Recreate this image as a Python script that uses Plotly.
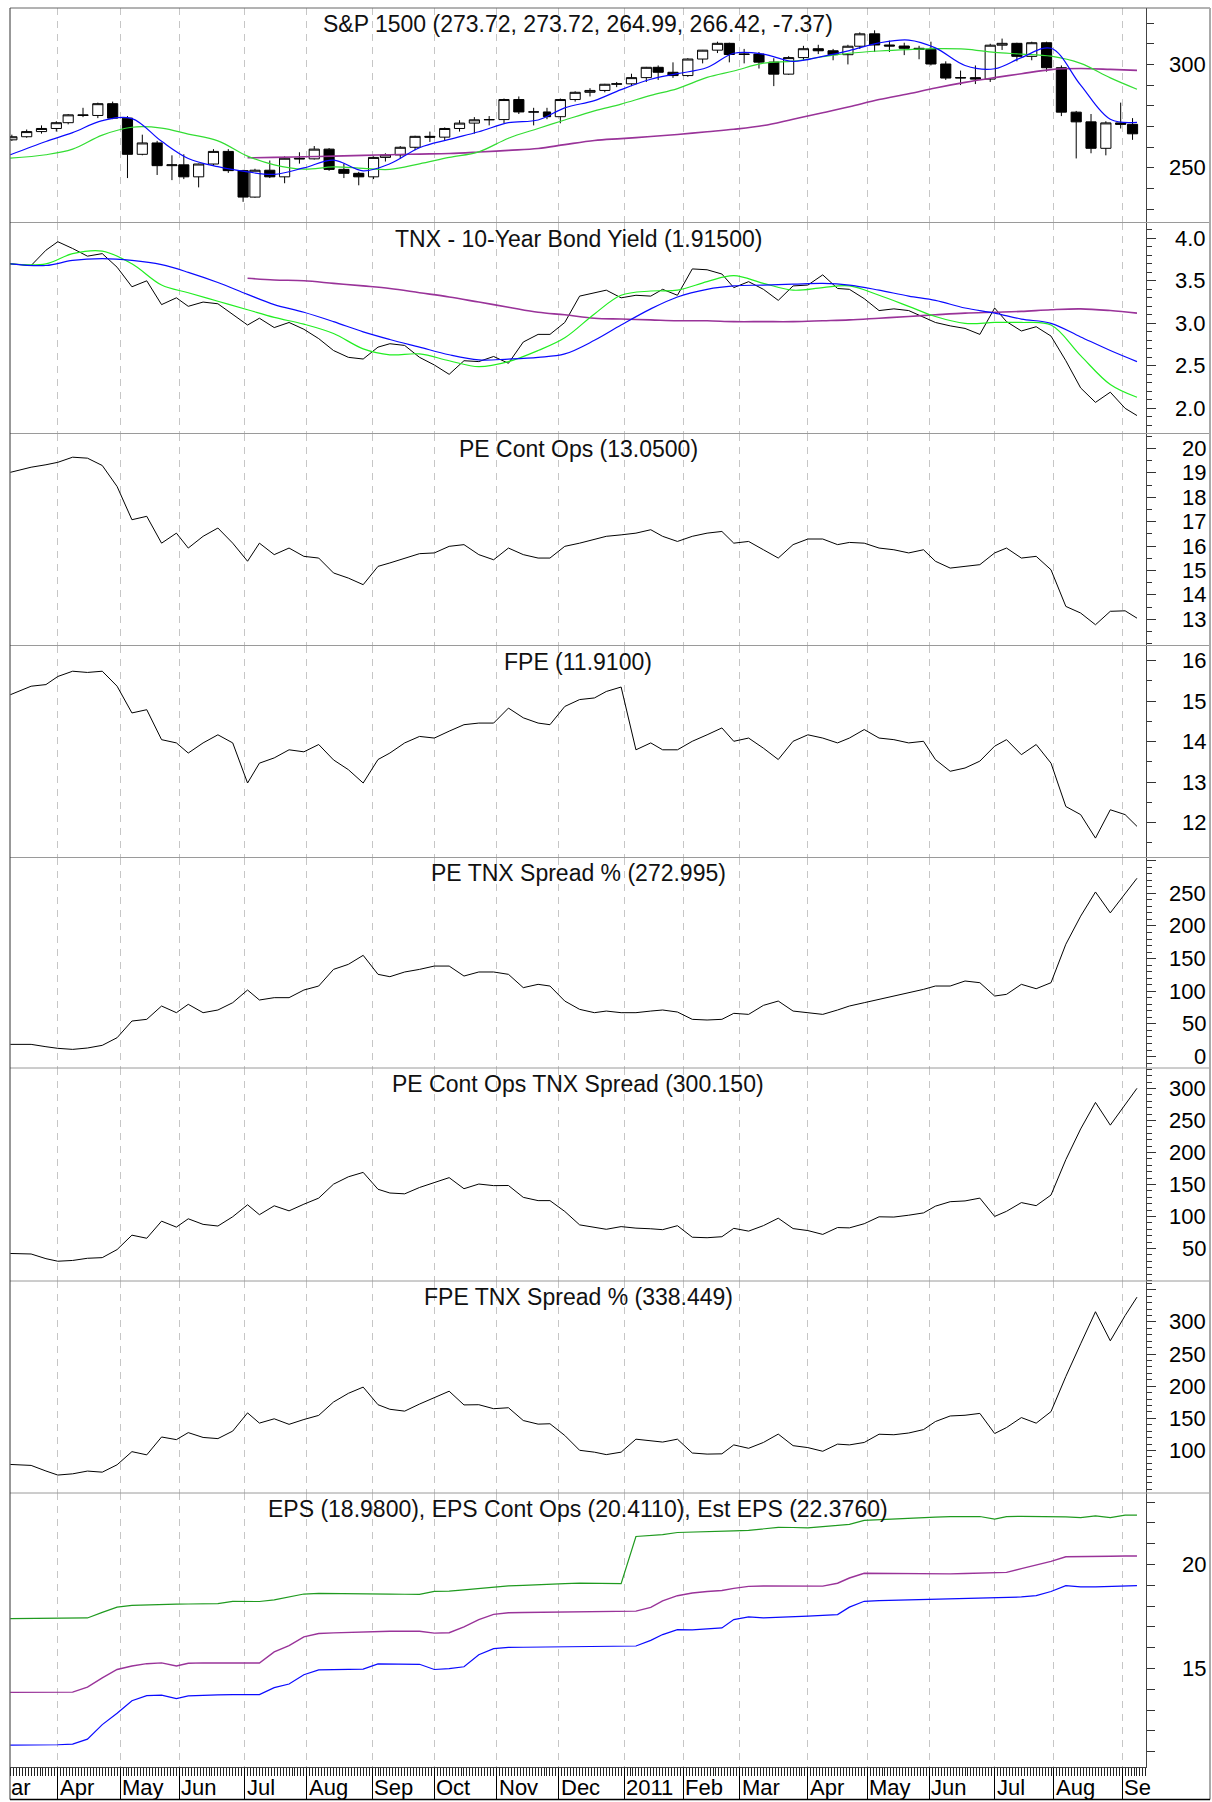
import plotly.graph_objects as go
from plotly.subplots import make_subplots

# ---------------- data (weekly samples) ----------------
dates = ["2010-03-10", "2010-03-19", "2010-03-26", "2010-04-01", "2010-04-09", "2010-04-16", "2010-04-23", "2010-04-30",
         "2010-05-07", "2010-05-14", "2010-05-21", "2010-05-28", "2010-06-04", "2010-06-11", "2010-06-18", "2010-06-25",
         "2010-07-02", "2010-07-09", "2010-07-16", "2010-07-23", "2010-07-30", "2010-08-06", "2010-08-13", "2010-08-20",
         "2010-08-27", "2010-09-03", "2010-09-10", "2010-09-17", "2010-09-24", "2010-10-01", "2010-10-08", "2010-10-15",
         "2010-10-22", "2010-10-29", "2010-11-05", "2010-11-12", "2010-11-19", "2010-11-26", "2010-12-03", "2010-12-10",
         "2010-12-17", "2010-12-23", "2010-12-31", "2011-01-07", "2011-01-14", "2011-01-21", "2011-01-28", "2011-02-04",
         "2011-02-11", "2011-02-18", "2011-02-25", "2011-03-04", "2011-03-11", "2011-03-18", "2011-03-25", "2011-04-01",
         "2011-04-08", "2011-04-15", "2011-04-21", "2011-04-29", "2011-05-06", "2011-05-13", "2011-05-20", "2011-05-27",
         "2011-06-03", "2011-06-10", "2011-06-17", "2011-06-24", "2011-07-01", "2011-07-08", "2011-07-15", "2011-07-22",
         "2011-07-29", "2011-08-05", "2011-08-12", "2011-08-19", "2011-08-26", "2011-09-02", "2011-09-09"]
ma_dates = dates[0::2]

spx_open = [263.5, 265.0, 267.5, 269.0, 271.8, 275.6, 275.3, 281.0, 274.0, 256.5,
            262.0, 251.0, 251.4, 245.6, 251.8, 257.9, 248.6, 235.8, 248.8, 245.6,
            254.6, 254.3, 259.0, 249.2, 247.3, 245.6, 255.0, 256.2, 259.9, 265.2,
            264.8, 269.0, 271.6, 273.2, 273.3, 283.0, 277.0, 277.0, 274.7, 283.0,
            286.5, 287.4, 290.4, 290.6, 293.6, 298.6, 296.2, 294.6, 302.6, 306.9,
            310.2, 304.8, 305.0, 301.1, 295.3, 303.3, 307.6, 306.6, 304.7, 308.8,
            314.8, 309.4, 308.9, 307.8, 307.3, 300.2, 293.4, 293.6, 292.9, 309.3,
            310.2, 303.9, 310.5, 298.4, 276.9, 272.2, 259.4, 271.7, 271.0]
spx_high = [266.0, 268.5, 270.5, 272.5, 276.0, 279.0, 281.5, 282.0, 275.0, 266.0,
            263.0, 256.0, 256.5, 252.0, 259.0, 259.0, 249.0, 249.5, 253.5, 255.5,
            257.5, 260.5, 259.5, 252.0, 248.0, 255.5, 257.0, 260.5, 265.5, 267.5,
            269.5, 273.0, 274.5, 275.0, 283.5, 284.5, 279.0, 279.0, 283.5, 287.0,
            288.5, 290.6, 291.5, 295.5, 298.8, 299.5, 301.0, 303.0, 307.0, 311.0,
            310.5, 307.5, 306.0, 303.0, 304.0, 309.0, 309.5, 307.5, 309.5, 315.5,
            316.5, 311.5, 310.5, 309.0, 311.0, 301.5, 297.0, 299.5, 310.0, 312.5,
            310.5, 311.0, 311.0, 299.5, 277.5, 276.0, 272.5, 281.5, 274.0]
spx_low = [263.0, 264.5, 266.5, 267.5, 271.0, 274.5, 274.0, 273.5, 245.0, 256.0,
           246.5, 244.0, 244.5, 240.5, 251.0, 247.5, 233.5, 235.5, 245.0, 242.5,
           252.0, 254.0, 248.5, 245.0, 241.5, 244.5, 253.0, 254.5, 258.5, 262.5,
           263.0, 267.5, 266.5, 270.5, 271.5, 276.0, 270.5, 273.5, 271.5, 282.0,
           284.5, 286.5, 289.0, 289.5, 291.5, 292.5, 293.5, 294.0, 300.5, 305.5,
           301.0, 300.5, 298.0, 289.5, 295.0, 302.0, 305.0, 302.0, 300.0, 307.5,
           306.0, 306.0, 304.5, 302.5, 299.5, 292.5, 290.0, 290.5, 291.5, 307.0,
           301.5, 302.0, 296.5, 275.0, 254.5, 257.0, 256.0, 269.0, 263.5]
spx_close = [265.0, 267.5, 269.0, 271.8, 275.6, 275.3, 281.0, 274.0, 256.5, 262.0,
             251.0, 251.4, 245.6, 251.8, 257.9, 248.6, 235.8, 248.8, 245.6, 254.6,
             254.3, 259.0, 249.2, 247.3, 245.6, 255.0, 256.2, 259.9, 265.2, 264.8,
             269.0, 271.6, 273.2, 273.3, 283.0, 277.0, 277.0, 274.7, 283.0, 286.5,
             287.4, 290.4, 290.6, 293.6, 298.6, 296.2, 294.6, 302.6, 306.9, 310.2,
             304.8, 305.0, 301.1, 295.3, 303.3, 307.6, 306.6, 304.7, 308.8, 314.8,
             309.4, 308.9, 307.8, 307.3, 300.2, 293.4, 293.6, 292.9, 309.3, 310.2,
             303.9, 310.5, 298.4, 276.9, 272.2, 259.4, 271.7, 271.0, 266.42]
spx_ma_fast = [256.3, 262.7, 267.0, 272.8, 273.8, 262.8, 254.5, 250.5, 248.0, 246.8,
               249.9, 253.7, 248.5, 251.9, 259.7, 263.7, 267.4, 271.8, 273.1, 279.0,
               282.5, 287.8, 292.8, 295.5, 298.5, 305.4, 305.0, 301.5, 303.9, 306.7,
               310.4, 311.8, 308.0, 299.5, 297.9, 303.3, 307.8, 290.0, 273.5, 272.0]
spx_ma_mid = [254.7, 256.3, 259.0, 265.8, 269.6, 269.2, 266.3, 263.0, 255.6, 251.4,
              249.3, 250.4, 249.7, 249.2, 251.9, 255.0, 257.7, 264.3, 269.0, 273.1,
              277.5, 280.8, 285.0, 288.3, 293.7, 296.8, 300.6, 301.6, 303.7, 305.4,
              306.5, 307.2, 307.6, 307.4, 305.8, 305.0, 304.0, 300.5, 293.5, 288.0]
spx_ma_slow = [None] * 8 + [254.8, 255.0, 255.3, 255.6, 256.0, 256.3, 256.6, 256.9, 257.6, 258.4,
                            259.3, 261.2, 263.2, 264.1, 265.1, 266.1, 267.4, 268.6, 270.4, 273.5,
                            276.6, 279.5, 283.0, 285.8, 288.6, 291.3, 293.6, 295.5, 297.5, 298.0,
                            297.6, 297.1]

tnx = [3.70, 3.68, 3.86, 3.96, 3.88, 3.79, 3.82, 3.66, 3.43, 3.50,
       3.22, 3.30, 3.20, 3.25, 3.23, 3.11, 2.98, 3.06, 2.95, 3.01,
       2.93, 2.82, 2.68, 2.60, 2.58, 2.72, 2.76, 2.74, 2.60, 2.51,
       2.40, 2.56, 2.55, 2.61, 2.53, 2.78, 2.87, 2.87, 3.01, 3.32,
       3.36, 3.39, 3.30, 3.33, 3.32, 3.40, 3.33, 3.64, 3.63, 3.58,
       3.42, 3.49, 3.40, 3.27, 3.44, 3.45, 3.57, 3.41, 3.40, 3.29,
       3.15, 3.17, 3.15, 3.07, 3.01, 2.97, 2.94, 2.87, 3.18, 3.02,
       2.91, 2.96, 2.85, 2.56, 2.24, 2.07, 2.19, 2.00, 1.915]
tnx_ma_fast = [3.70, 3.68, 3.74, 3.76, 3.74, 3.69, 3.60, 3.48, 3.34, 3.22,
               3.13, 3.02, 2.90, 2.81, 2.72, 2.63, 2.57, 2.58, 2.60, 2.64,
               2.80, 2.98, 3.17, 3.31, 3.40, 3.44, 3.45, 3.46, 3.47, 3.45,
               3.39, 3.32, 3.27, 3.18, 3.12, 3.05, 3.00, 2.84, 2.68, 2.55]
tnx_ma_mid = [3.70, 3.70, 3.82, 3.85, 3.70, 3.45, 3.36, 3.26, 3.16, 3.07,
              2.99, 2.88, 2.70, 2.63, 2.64, 2.56, 2.49, 2.55, 2.68, 2.83,
              3.11, 3.33, 3.38, 3.39, 3.49, 3.56, 3.47, 3.39, 3.42, 3.44,
              3.33, 3.20, 3.08, 3.00, 3.01, 3.01, 2.98, 2.62, 2.28, 2.13]
tnx_ma_slow = [None] * 8 + [3.53, 3.51, 3.50, 3.47, 3.44, 3.41, 3.36, 3.31, 3.25, 3.19,
                            3.13, 3.10, 3.06, 3.05, 3.04, 3.03, 3.03, 3.02, 3.02, 3.02,
                            3.03, 3.04, 3.06, 3.08, 3.10, 3.12, 3.13, 3.14, 3.16, 3.17,
                            3.15, 3.12]

pe_cont = [19.02, 19.23, 19.33, 19.43, 19.64, 19.60, 19.30, 18.44, 17.08, 17.22,
           16.12, 16.53, 15.92, 16.40, 16.74, 16.12, 15.38, 16.12, 15.65, 15.92,
           15.58, 15.51, 14.90, 14.69, 14.42, 15.17, 15.31, 15.51, 15.69, 15.72,
           15.99, 16.06, 15.65, 15.44, 15.92, 15.65, 15.51, 15.51, 15.99, 16.12,
           16.26, 16.40, 16.46, 16.53, 16.67, 16.40, 16.19, 16.40, 16.53, 16.60,
           16.12, 16.19, 15.85, 15.51, 16.06, 16.29, 16.29, 16.06, 16.15, 16.12,
           15.92, 15.85, 15.72, 15.85, 15.38, 15.10, 15.17, 15.24, 15.72, 15.92,
           15.51, 15.58, 15.03, 13.53, 13.26, 12.78, 13.33, 13.35, 13.05]
fpe = [15.16, 15.37, 15.41, 15.61, 15.74, 15.71, 15.74, 15.37, 14.71, 14.79,
       14.05, 13.97, 13.72, 13.97, 14.17, 13.97, 12.98, 13.47, 13.60, 13.80,
       13.75, 13.93, 13.55, 13.31, 12.98, 13.56, 13.72, 13.97, 14.13, 14.09,
       14.26, 14.42, 14.46, 14.46, 14.83, 14.59, 14.46, 14.42, 14.87, 15.04,
       15.08, 15.24, 15.35, 13.80, 13.97, 13.80, 13.80, 14.01, 14.17, 14.34,
       14.01, 14.09, 13.84, 13.56, 14.01, 14.17, 14.09, 13.97, 14.09, 14.30,
       14.09, 14.05, 13.97, 14.01, 13.56, 13.27, 13.35, 13.52, 13.89, 14.05,
       13.68, 13.93, 13.47, 12.40, 12.20, 11.62, 12.32, 12.20, 11.91]
pe_tnx_spread = [18.7, 18.7, 15.1, 12.6, 11.0, 13.1, 17.2, 28.9, 54.4, 57.0,
                 77.4, 67.2, 80.0, 67.2, 71.3, 82.5, 101.9, 86.6, 90.2, 90.2,
                 101.9, 108.0, 133.5, 141.2, 155.0, 125.9, 122.3, 129.5, 133.5, 138.6,
                 138.6, 123.3, 129.5, 129.5, 125.9, 105.5, 110.6, 108.0, 85.0, 72.3,
                 67.2, 69.7, 67.2, 67.2, 69.7, 71.3, 68.2, 57.0, 56.0, 57.0,
                 66.2, 64.6, 78.4, 85.0, 69.7, 67.2, 64.6, 71.3, 77.4, 82.5,
                 87.6, 92.7, 96.8, 102.9, 108.0, 108.0, 115.7, 113.1, 92.7, 95.3,
                 110.6, 103.9, 113.1, 172.0, 215.0, 252.0, 220.0, 250.0, 273.0]
pe_cont_tnx_spread = [42.1, 41.3, 34.0, 30.0, 31.2, 34.6, 35.6, 48.2, 70.7, 65.9,
                      92.6, 83.3, 96.3, 87.6, 85.0, 99.5, 118.2, 102.7, 116.6, 108.7,
                      119.1, 128.6, 150.4, 161.9, 168.8, 142.4, 136.6, 135.3, 145.2, 153.4,
                      160.6, 143.3, 150.6, 148.1, 148.3, 129.8, 124.7, 124.7, 107.8, 86.8,
                      83.1, 79.9, 84.1, 81.7, 80.7, 79.3, 85.5, 67.5, 66.7, 68.3,
                      81.4, 77.0, 85.6, 97.2, 81.0, 77.9, 71.9, 82.6, 82.1, 88.6,
                      99.4, 99.0, 101.9, 105.5, 116.0, 123.0, 124.2, 128.6, 100.0, 108.0,
                      121.6, 116.8, 133.4, 188.7, 236.7, 278.1, 242.6, 274.5, 300.15]
fpe_tnx_spread = [78.3, 76.8, 68.1, 61.8, 63.7, 68.0, 66.3, 77.8, 98.2, 93.2,
                  121.0, 116.9, 127.8, 120.3, 118.5, 130.2, 158.5, 142.6, 149.3, 140.7,
                  148.2, 154.6, 175.4, 188.9, 198.6, 171.2, 164.1, 161.2, 172.2, 182.7,
                  192.2, 170.9, 171.2, 165.0, 166.5, 146.6, 141.0, 141.6, 123.4, 100.3,
                  97.4, 93.6, 97.4, 117.6, 115.6, 113.1, 117.6, 96.1, 94.4, 94.8,
                  108.7, 103.4, 112.5, 125.5, 107.5, 104.5, 98.8, 109.9, 108.7, 112.5,
                  125.3, 124.5, 127.2, 132.5, 145.0, 153.7, 154.8, 157.7, 126.4, 135.7,
                  151.2, 142.5, 160.5, 215.1, 265.9, 315.8, 270.6, 309.8, 338.45]
eps = [11.31, 11.31, 11.32, 11.33, 11.36, 11.60, 12.30, 12.85, 13.45, 13.69,
       13.72, 13.55, 13.68, 13.72, 13.73, 13.74, 13.74, 13.74, 14.08, 14.25,
       14.70, 14.93, 14.94, 14.96, 14.97, 15.22, 15.22, 15.21, 15.20, 14.95,
       14.99, 15.08, 15.66, 15.95, 16.01, 16.02, 16.03, 16.04, 16.05, 16.05,
       16.06, 16.07, 16.07, 16.08, 16.35, 16.63, 16.87, 16.86, 16.90, 16.95,
       17.35, 17.48, 17.43, 17.47, 17.50, 17.52, 17.55, 17.59, 17.95, 18.23,
       18.26, 18.28, 18.30, 18.32, 18.34, 18.36, 18.38, 18.40, 18.42, 18.43,
       18.44, 18.50, 18.70, 18.98, 18.92, 18.92, 18.95, 18.97, 18.98]
eps_cont = [13.85, 13.85, 13.86, 13.86, 13.86, 14.10, 14.55, 14.95, 15.12, 15.23,
            15.27, 15.12, 15.25, 15.27, 15.27, 15.26, 15.26, 15.26, 15.80, 16.10,
            16.52, 16.68, 16.71, 16.74, 16.77, 16.79, 16.79, 16.79, 16.79, 16.70,
            16.72, 17.00, 17.35, 17.60, 17.68, 17.69, 17.70, 17.71, 17.72, 17.73,
            17.74, 17.75, 17.75, 17.76, 17.94, 18.25, 18.50, 18.63, 18.70, 18.75,
            18.85, 18.95, 18.97, 18.96, 18.96, 18.96, 18.96, 19.10, 19.35, 19.58,
            19.57, 19.56, 19.55, 19.55, 19.54, 19.55, 19.57, 19.59, 19.61, 19.62,
            19.80, 19.98, 20.15, 20.37, 20.39, 20.40, 20.40, 20.41, 20.411]
est_eps = [17.40, 17.40, 17.40, 17.40, 17.41, 17.43, 17.70, 17.95, 18.03, 18.06,
           18.08, 18.09, 18.10, 18.11, 18.12, 18.23, 18.22, 18.22, 18.30, 18.45,
           18.58, 18.61, 18.61, 18.60, 18.60, 18.59, 18.58, 18.57, 18.56, 18.71,
           18.72, 18.78, 18.85, 18.92, 18.97, 19.00, 19.04, 19.06, 19.08, 19.10,
           19.09, 19.08, 19.08, 21.35, 21.40, 21.44, 21.54, 21.57, 21.58, 21.60,
           21.62, 21.64, 21.70, 21.79, 21.78, 21.76, 21.82, 21.89, 21.93, 22.12,
           22.16, 22.20, 22.24, 22.27, 22.28, 22.30, 22.32, 22.31, 22.18, 22.30,
           22.32, 22.32, 22.31, 22.29, 22.26, 22.34, 22.26, 22.38, 22.376]

month_ticks = ["2010-04-01", "2010-05-03", "2010-06-01", "2010-07-01", "2010-08-02", "2010-09-01",
               "2010-10-01", "2010-11-01", "2010-12-01", "2011-01-03", "2011-02-01", "2011-03-01",
               "2011-04-01", "2011-05-02", "2011-06-01", "2011-07-01", "2011-08-01", "2011-09-01"]
month_labels = ["Apr", "May", "Jun", "Jul", "Aug", "Sep", "Oct", "Nov", "Dec", "2011",
                "Feb", "Mar", "Apr", "May", "Jun", "Jul", "Aug", "Se"]
market_holidays = ["2010-04-02", "2010-05-31", "2010-07-05", "2010-09-06", "2010-11-25", "2010-12-24",
                   "2011-01-17", "2011-02-21", "2011-04-22", "2011-05-30", "2011-07-04", "2011-09-05"]

titles = ["S&P 1500 (273.72, 273.72, 264.99, 266.42, -7.37)",
          "TNX - 10-Year Bond Yield (1.91500)",
          "PE Cont Ops (13.0500)",
          "FPE (11.9100)",
          "PE TNX Spread % (272.995)",
          "PE Cont Ops TNX Spread (300.150)",
          "FPE TNX Spread % (338.449)",
          "EPS (18.9800), EPS Cont Ops (20.4110), Est EPS (22.3760)"]

y_labels = [["250", "300"],
            ["2.0", "2.5", "3.0", "3.5", "4.0"],
            ["13", "14", "15", "16", "17", "18", "19", "20"],
            ["12", "13", "14", "15", "16"],
            ["0", "50", "100", "150", "200", "250"],
            ["50", "100", "150", "200", "250", "300"],
            ["100", "150", "200", "250", "300"],
            ["15", "20"]]

# ---------------- layout geometry ----------------
W, H = 1212, 1802
ML, MR, MT, MB = 10, 66, 8, 35
PH = H - MT - MB
PW = W - ML - MR
edges = [8, 222.5, 433.5, 645.5, 857.5, 1068, 1281, 1493, 1767]


def py(y):
    return (H - MB - y) / PH


domains = [[py(edges[i + 1]), py(edges[i])] for i in range(8)]

y_ranges = [[223.5, 327.3], [1.704, 4.186], [11.93, 20.61], [11.141, 16.375],
            [-17.5, 304.8], [-0.9, 331.9], [33.9, 363.6], [10.26, 23.44]]
major_ticks = [list(range(230, 330, 10)), [2.0, 2.5, 3.0, 3.5, 4.0], list(range(13, 21)),
               list(range(12, 17)), list(range(0, 301, 50)), list(range(50, 301, 50)),
               list(range(100, 351, 50)), list(range(11, 24))]
major_len = [7, 9, 9, 9, 9, 9, 9, 8]
minor_dt = [None, 0.1, 0.5, 0.5, 10, 10, 10, None]

FONT = "Liberation Sans, Arial, sans-serif"
BLUE = "#0a0aff"
GREEN = "#33dd33"
PURPLE = "#993399"

fig = make_subplots(rows=8, cols=1, shared_xaxes=True, vertical_spacing=0)

# Panel 1: S&P 1500 candles + moving averages
fig.add_trace(go.Candlestick(x=dates, open=spx_open, high=spx_high, low=spx_low, close=spx_close,
                             xperiod=7 * 86400000, xperiod0="2010-03-07", xperiodalignment="middle",
                             increasing=dict(line=dict(color="#000000", width=1), fillcolor="#ffffff"),
                             decreasing=dict(line=dict(color="#000000", width=1), fillcolor="#000000"),
                             whiskerwidth=0, showlegend=False, hoverinfo="skip"), row=1, col=1)
fig.add_trace(go.Scatter(x=ma_dates, y=spx_ma_slow, mode="lines", line=dict(color=PURPLE, width=1.6),
                         line_shape="spline", showlegend=False), row=1, col=1)
fig.add_trace(go.Scatter(x=ma_dates, y=spx_ma_mid, mode="lines", line=dict(color=GREEN, width=1.2),
                         line_shape="spline", showlegend=False), row=1, col=1)
fig.add_trace(go.Scatter(x=ma_dates, y=spx_ma_fast, mode="lines", line=dict(color=BLUE, width=1.2),
                         line_shape="spline", showlegend=False), row=1, col=1)

# Panel 2: TNX
fig.add_trace(go.Scatter(x=dates, y=tnx, mode="lines", line=dict(color="#000000", width=1),
                         showlegend=False), row=2, col=1)
fig.add_trace(go.Scatter(x=ma_dates, y=tnx_ma_slow, mode="lines", line=dict(color=PURPLE, width=1.6),
                         line_shape="spline", showlegend=False), row=2, col=1)
fig.add_trace(go.Scatter(x=ma_dates, y=tnx_ma_mid, mode="lines", line=dict(color="#22ee22", width=1.2),
                         line_shape="spline", showlegend=False), row=2, col=1)
fig.add_trace(go.Scatter(x=ma_dates, y=tnx_ma_fast, mode="lines", line=dict(color=BLUE, width=1.2),
                         line_shape="spline", showlegend=False), row=2, col=1)

# Panels 3-7: single black lines
for r, series in zip(range(3, 8), [pe_cont, fpe, pe_tnx_spread, pe_cont_tnx_spread, fpe_tnx_spread]):
    fig.add_trace(go.Scatter(x=dates, y=series, mode="lines", line=dict(color="#000000", width=1),
                             showlegend=False), row=r, col=1)

# Panel 8: EPS lines
fig.add_trace(go.Scatter(x=dates, y=est_eps, mode="lines", line=dict(color="#1f9a1f", width=1.2),
                         showlegend=False), row=8, col=1)
fig.add_trace(go.Scatter(x=dates, y=eps_cont, mode="lines", line=dict(color=PURPLE, width=1.4),
                         showlegend=False), row=8, col=1)
fig.add_trace(go.Scatter(x=dates, y=eps, mode="lines", line=dict(color=BLUE, width=1.2),
                         showlegend=False), row=8, col=1)

# ---------------- axes ----------------
fig.update_xaxes(type="date", range=["2010-03-09 21:00", "2011-09-14 01:00"],
                 rangebreaks=[dict(bounds=["sat", "mon"]), dict(values=market_holidays)],
                 tickmode="array", tickvals=month_ticks, showgrid=True, gridcolor="#c6c6c6",
                 griddash="7px,6px", gridwidth=1, ticks="", showticklabels=False, showline=False,
                 zeroline=False, rangeslider_visible=False, fixedrange=True)
fig.update_xaxes(row=8, col=1, ticks="outside", ticklen=32, tickcolor="#000000", tickwidth=1,
                 minor=dict(ticks="outside", ticklen=8, tickcolor="#222222", tickwidth=1,
                            tickmode="linear", dtick=86400000, tick0="2010-03-01", showgrid=False),
                 showline=True, linecolor="#444444", linewidth=1)

for i in range(8):
    kw = dict(side="right", range=y_ranges[i], tickmode="array", tickvals=major_ticks[i],
              ticks="outside", ticklen=major_len[i], tickcolor="#333333", tickwidth=1,
              showticklabels=False, showgrid=False, zeroline=False, showline=True,
              linecolor="#444444", linewidth=1, domain=domains[i], fixedrange=True)
    if minor_dt[i] is not None:
        kw["minor"] = dict(ticks="outside", ticklen=5, tickcolor="#333333", tickwidth=1,
                           tickmode="linear", tick0=0, dtick=minor_dt[i], showgrid=False)
    fig.update_yaxes(row=i + 1, col=1, **kw)

# ---------------- annotations ----------------
annotations = []
for i, t in enumerate(titles):
    annotations.append(dict(text=t, xref="paper", yref="paper", x=0.5, y=domains[i][1],
                            xanchor="center", yanchor="top", yshift=-1, showarrow=False,
                            font=dict(size=23, color="#111111", family=FONT)))
for i, labels in enumerate(y_labels):
    yref = "y" if i == 0 else f"y{i + 1}"
    for lab in labels:
        annotations.append(dict(text=lab, xref="paper", yref=yref, x=1, y=float(lab),
                                xanchor="right", yanchor="middle", xshift=62, showarrow=False,
                                font=dict(size=22, color="#000000", family=FONT)))
# month labels in the bottom strip, left-aligned just right of each month line
for tv, lab in zip(month_ticks, month_labels):
    annotations.append(dict(text=lab, xref="x8", yref="paper", x=tv, y=py(1787),
                            xanchor="left", yanchor="middle", xshift=0, showarrow=False,
                            font=dict(size=22, color="#000000", family=FONT)))
# clipped first month label at the left edge
annotations.append(dict(text="ar", xref="paper", yref="paper", x=0, y=py(1787),
                        xanchor="left", yanchor="middle", xshift=-1, showarrow=False,
                        font=dict(size=22, color="#000000", family=FONT)))

# ---------------- frame / separators ----------------
xr = (1210 - ML) / PW
yb = py(1799.5)
shapes = []
for k, e in enumerate(edges[:-1]):
    shapes.append(dict(type="line", xref="paper", yref="paper", x0=0, x1=xr, y0=py(e), y1=py(e),
                       line=dict(color="#666666" if k == 0 else "#9a9a9a", width=1), layer="above"))
shapes.append(dict(type="line", xref="paper", yref="paper", x0=0, x1=0, y0=yb, y1=1,
                   line=dict(color="#333333", width=1), layer="above"))
shapes.append(dict(type="line", xref="paper", yref="paper", x0=xr, x1=xr, y0=yb, y1=1,
                   line=dict(color="#aaaaaa", width=2), layer="above"))
shapes.append(dict(type="line", xref="paper", yref="paper", x0=0, x1=xr, y0=yb, y1=yb,
                   line=dict(color="#000000", width=1.5), layer="above"))

fig.update_layout(width=W, height=H, margin=dict(l=ML, r=MR, t=MT, b=MB, autoexpand=False),
                  plot_bgcolor="#ffffff", paper_bgcolor="#ffffff", showlegend=False,
                  font=dict(family=FONT, color="#000000"), annotations=annotations, shapes=shapes,
                  hovermode=False)

fig.write_html("out.html", config={"displayModeBar": False, "staticPlot": True},
               post_script="document.body.style.margin='0';document.body.style.padding='0';")
